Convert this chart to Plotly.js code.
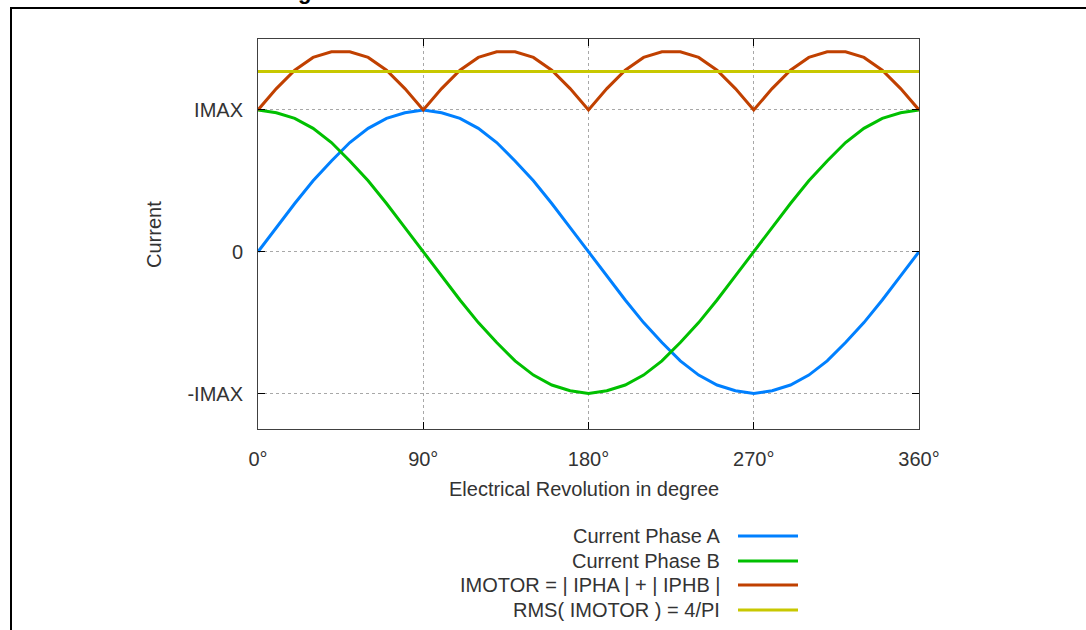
<!DOCTYPE html>
<html>
<head>
<meta charset="utf-8">
<script src="https://cdn.plot.ly/plotly-3.0.1.min.js"></script>
<style>html,body{margin:0;padding:0;background:#fff;}#chart{width:1086px;height:630px;}</style>
</head>
<body>
<div id="chart"></div>
<script>
// ---- data ----
const angleDeg = [0,10,20,30,40,50,60,70,80,90,100,110,120,130,140,150,160,170,180,190,200,210,220,230,240,250,260,270,280,290,300,310,320,330,340,350,360];
const phaseA = [0,0.17,0.34,0.5,0.64,0.77,0.87,0.94,0.98,1,0.98,0.94,0.87,0.77,0.64,0.5,0.34,0.17,0,-0.17,-0.34,-0.5,-0.64,-0.77,-0.87,-0.94,-0.98,-1,-0.98,-0.94,-0.87,-0.77,-0.64,-0.5,-0.34,-0.17,0];
const phaseB = [1,0.98,0.94,0.87,0.77,0.64,0.5,0.34,0.17,0,-0.17,-0.34,-0.5,-0.64,-0.77,-0.87,-0.94,-0.98,-1,-0.98,-0.94,-0.87,-0.77,-0.64,-0.5,-0.34,-0.17,0,0.17,0.34,0.5,0.64,0.77,0.87,0.94,0.98,1];
const iMotor = [1,1.15,1.28,1.37,1.41,1.41,1.37,1.28,1.15,1,1.15,1.28,1.37,1.41,1.41,1.37,1.28,1.15,1,1.15,1.28,1.37,1.41,1.41,1.37,1.28,1.15,1,1.15,1.28,1.37,1.41,1.41,1.37,1.28,1.15,1];
const rmsAngle = [0,360];
const rmsValue = [1.27,1.27];
const xTickVals = [0,90,180,270,360];
const xTickText = ['0°','90°','180°','270°','360°'];
const yTickVals = [-1,0,1];
const yTickText = ['-IMAX','0','IMAX'];
const seriesNames = ['Current Phase A','Current Phase B','IMOTOR = | IPHA | + | IPHB |','RMS( IMOTOR ) = 4/PI'];
const seriesColors = ['#0080ff','#00c000','#c04000','#c8c800'];
const xTitle = 'Electrical Revolution in degree';
const yTitle = 'Current';

// ---- layout geometry (pixels) ----
const W = 1086, H = 630;
const PL = 258, PR = 919, PT = 39, PB = 429;
const px = x => (x - PL) / (PR - PL);
const py = y => (PB - y) / (PB - PT);

const FONT = 'Liberation Sans, Arial, sans-serif';
const TXT = '#333333';
const FS = 20;

const xs = [angleDeg, angleDeg, angleDeg, rmsAngle];
const ys = [phaseA, phaseB, iMotor, rmsValue];
const traces = ys.map((y, i) => ({
  x: xs[i], y: y, type: 'scatter', mode: 'lines', name: seriesNames[i],
  line: {color: seriesColors[i], width: 3}, showlegend: false, hoverinfo: 'skip'
}));

const annotations = [
  {text: xTitle, xref: 'paper', yref: 'paper', x: px(584), y: py(489), xanchor: 'center', yanchor: 'middle', showarrow: false, font: {family: FONT, size: FS, color: TXT}},
  {text: yTitle, xref: 'paper', yref: 'paper', x: px(154), y: py(235), xanchor: 'center', yanchor: 'middle', textangle: -90, showarrow: false, font: {family: FONT, size: FS, color: TXT}},
  {text: '<b>g</b>', xref: 'paper', yref: 'paper', x: px(304), y: py(6), xanchor: 'center', yanchor: 'bottom', showarrow: false, font: {family: FONT, size: 22, color: '#000'}}
];
const legendRows = [536, 561, 585, 610];
const shapes = [
  {type: 'line', xref: 'paper', yref: 'paper', x0: px(10), x1: px(1090), y0: py(8), y1: py(8), line: {color: '#000', width: 2}},
  {type: 'line', xref: 'paper', yref: 'paper', x0: px(11), x1: px(11), y0: py(7), y1: py(640), line: {color: '#000', width: 2}}
];
seriesNames.forEach((n, i) => {
  annotations.push({text: n, xref: 'paper', yref: 'paper', x: px(722), y: py(legendRows[i]), xanchor: 'right', yanchor: 'middle', showarrow: false, font: {family: FONT, size: FS, color: TXT}});
  shapes.push({type: 'line', xref: 'paper', yref: 'paper', x0: px(738), x1: px(798), y0: py(legendRows[i]), y1: py(legendRows[i]), line: {color: seriesColors[i], width: 3}});
});

const axisCommon = {
  showline: true, linecolor: '#404040', linewidth: 1, mirror: 'ticks',
  ticks: 'inside', ticklen: 7, tickcolor: '#000', tickwidth: 1,
  showgrid: true, gridcolor: '#a8a8a8', griddash: 'dot', gridwidth: 1,
  zeroline: false, tickfont: {family: FONT, size: FS, color: TXT}, fixedrange: true
};

const layout = {
  width: W, height: H,
  margin: {l: PL, r: W - PR, t: PT, b: H - PB, pad: 0},
  paper_bgcolor: '#fff', plot_bgcolor: '#fff',
  showlegend: false,
  xaxis: Object.assign({}, axisCommon, {range: [0, 360], tickmode: 'array', tickvals: xTickVals, ticktext: xTickText, ticklabelstandoff: 12}),
  yaxis: Object.assign({}, axisCommon, {range: [-1.25, 1.5], tickmode: 'array', tickvals: yTickVals, ticktext: yTickText, ticklabelstandoff: 10}),
  annotations: annotations,
  shapes: shapes
};

Plotly.newPlot('chart', traces, layout, {displayModeBar: false, staticPlot: true});
</script>
</body>
</html>
